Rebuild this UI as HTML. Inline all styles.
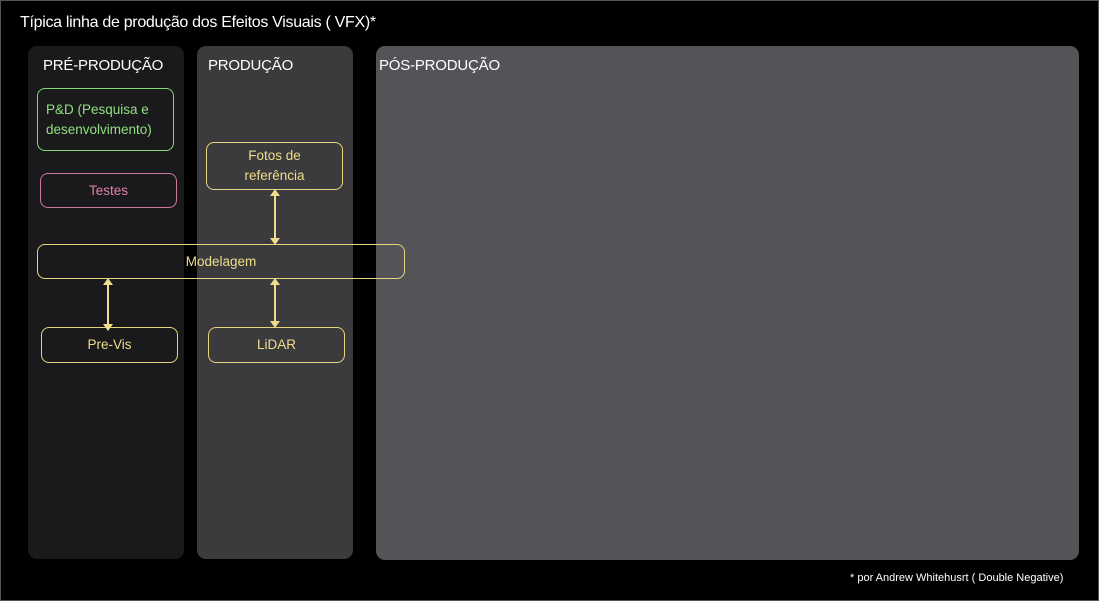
<!DOCTYPE html>
<html><head><meta charset="utf-8"><style>
body{margin:0;background:#000;}
#c{position:relative;width:1099px;height:601px;background:#000;overflow:hidden;font-family:"Liberation Sans",sans-serif;}
.a{position:absolute;box-sizing:border-box;}
.col{border-radius:9px;}
.h{color:#fff;font-size:15px;letter-spacing:-0.2px;}
.b{border-radius:8px;border:1.3px solid;display:flex;align-items:center;justify-content:center;text-align:center;font-size:13.5px;line-height:20px;}
.y{border-color:#e6d47e;color:#eedd8c;}
</style></head><body><div id="c">
<div class="a" style="left:0;top:0;width:1099px;height:601px;border:1px solid #555;"></div>
<div class="a h" style="left:20px;top:14px;font-size:16px;letter-spacing:-0.3px;">Típica linha de produção dos Efeitos Visuais ( VFX)*</div>
<div class="a col" style="left:28px;top:46px;width:156px;height:513px;background:#1a1a1c"></div>
<div class="a col" style="left:197px;top:46px;width:156px;height:513px;background:#3b3b3d"></div>
<div class="a col" style="left:376px;top:46px;width:703px;height:514px;background:#545458"></div>
<div class="a h" style="left:43px;top:57px;">PRÉ-PRODUÇÃO</div>
<div class="a h" style="left:208px;top:57px;">PRODUÇÃO</div>
<div class="a h" style="left:379px;top:57px;">PÓS-PRODUÇÃO</div>
<div class="a b" style="left:37px;top:88px;width:137px;height:63px;border-color:#86d877;color:#90e07e;justify-content:flex-start;text-align:left;padding-left:8px;">P&amp;D (Pesquisa e<br>desenvolvimento)</div>
<div class="a b" style="left:40px;top:173px;width:137px;height:35px;border-color:#d0789a;color:#e080a4;">Testes</div>
<div class="a b y" style="left:206px;top:142px;width:137px;height:48px;">Fotos de<br>referência</div>
<div class="a b y" style="left:37px;top:244px;width:368px;height:35px;">Modelagem</div>
<div class="a b y" style="left:41px;top:327px;width:137px;height:36px;">Pre-Vis</div>
<div class="a b y" style="left:208px;top:327px;width:137px;height:36px;">LiDAR</div>
<svg class="a" style="left:0;top:0" width="1099" height="601">
<g stroke="#eedd8c" stroke-width="2" fill="#eedd8c">
<line x1="275" y1="194" x2="275" y2="240"/><polygon points="270,196 280,196 275,189" stroke="none"/><polygon points="270,238 280,238 275,245" stroke="none"/>
<line x1="275" y1="283" x2="275" y2="323"/><polygon points="270,285 280,285 275,278" stroke="none"/><polygon points="270,321 280,321 275,328" stroke="none"/>
<line x1="108" y1="283" x2="108" y2="326"/><polygon points="103,285 113,285 108,278" stroke="none"/><polygon points="103,324 113,324 108,331" stroke="none"/>
</g></svg>
<div class="a" style="left:850px;top:572px;color:#fff;font-size:11px;">* por Andrew Whitehusrt ( Double Negative)</div>
</div></body></html>
